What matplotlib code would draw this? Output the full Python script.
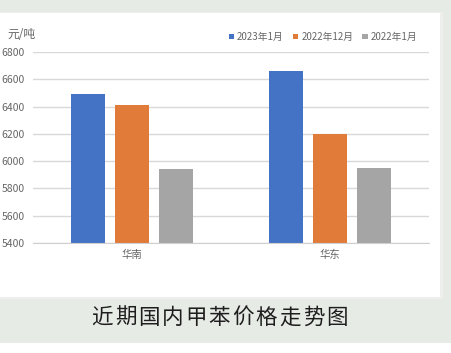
import matplotlib.pyplot as plt
import numpy as np
from matplotlib.patches import Rectangle

plt.rcParams['font.family'] = ['Noto Sans CJK SC', 'DejaVu Sans']

regions = ["华南", "华东"]
series_names = ["2023年1月", "2022年12月", "2022年1月"]
jan_2023 = [6490, 6660]
dec_2022 = [6410, 6200]
jan_2022 = [5940, 5950]
y_ticks = [5400, 5600, 5800, 6000, 6200, 6400, 6600, 6800]
colors = ["#4472C4", "#E07B39", "#A5A5A5"]
title = "近期国内甲苯价格走势图"

W, H = 452, 353
fig = plt.figure(figsize=(W / 100, H / 100), dpi=100)
fig.patch.set_facecolor("white")

# page background: grey-green frame, white chart panel
bg = "#E7EBE6"
fig.patches.append(Rectangle((0, 10 / H), 1, 1 - 10 / H, transform=fig.transFigure,
                             facecolor=bg, edgecolor="none", zorder=-3))
fig.patches.append(Rectangle((0, 1 - 299 / H), 443 / W, (299 - 12) / H,
                             transform=fig.transFigure, facecolor="#EEEEEC",
                             edgecolor="none", zorder=-2))
fig.patches.append(Rectangle((0, 1 - 297 / H), 440 / W, (297 - 13) / H,
                             transform=fig.transFigure, facecolor="white",
                             edgecolor="none", zorder=-1))

ax = fig.add_axes([33 / W, 1 - 243 / H, (429 - 33) / W, (243 - 52) / H])
ax.set_facecolor("none")

x = np.arange(len(regions))
width = 0.172
step = 0.222
for k, vals in enumerate([jan_2023, dec_2022, jan_2022]):
    ax.bar(x + (k - 1) * step, vals, width, color=colors[k],
           label=series_names[k], zorder=2)

ax.set_xlim(-0.5, 1.5)
ax.set_ylim(5400, 6800)
ax.set_yticks(y_ticks)
ax.set_yticklabels([str(v) for v in y_ticks], fontsize=7.5, color="#666666")
ax.set_xticks(x)
ax.set_xticklabels(regions, fontsize=7.5, color="#666666")
ax.tick_params(length=0)
ax.tick_params(axis="y", pad=6)
ax.tick_params(axis="x", pad=5)
ax.grid(axis="y", color="#D9D9D9", linewidth=1, zorder=0)
for s in ["top", "right", "left"]:
    ax.spines[s].set_visible(False)
ax.spines["bottom"].set_color("#D0D0D0")

fig.text(7 / W, 1 - 35 / H, "元/吨", fontsize=8.5, color="#666666",
         ha="left", va="center")

ax.legend(loc="center", bbox_to_anchor=(323 / W, 1 - 37 / H),
          bbox_transform=fig.transFigure, ncol=3, frameon=False,
          fontsize=7, handlelength=0.55, handleheight=0.55,
          handletextpad=0.3, columnspacing=0.95, labelcolor="#666666")

# bottom caption, characters spaced evenly
cx, cstep = 102 / W, 23.5 / W
for i, ch in enumerate(title):
    fig.text(cx + i * cstep, 1 - 318 / H, ch, fontsize=15.5, color="#1e1e1e",
             ha="center", va="center")

fig.savefig("out.png", dpi=100)
